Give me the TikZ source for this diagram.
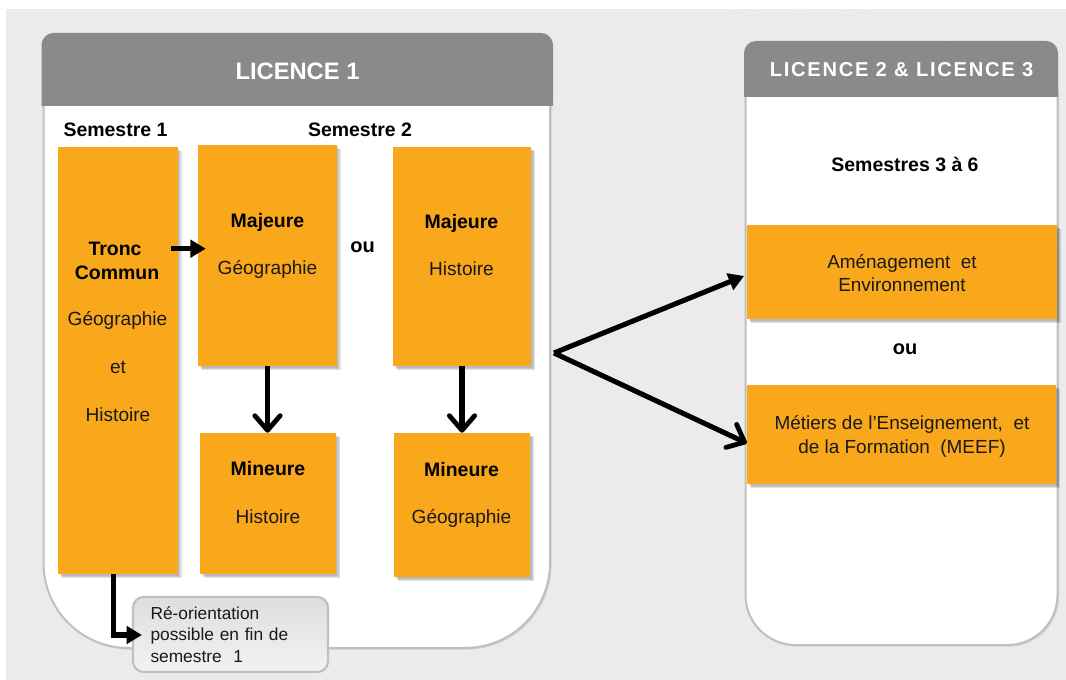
\documentclass[tikz,border=0pt]{standalone}
\usepackage{fontspec}
\setmainfont{Liberation Sans}
\newfontfamily\widefont[LetterSpace=8.5]{Liberation Sans}
\usetikzlibrary{arrows.meta,positioning,calc}
\def\px{*0.75pt}
\definecolor{pagegray}{RGB}{235,235,235}
\definecolor{sealgray}{RGB}{238,238,238}
\definecolor{headgray}{RGB}{138,138,138}
\definecolor{bordergray}{RGB}{192,192,192}
\definecolor{boxorange}{RGB}{249,167,27}
\tikzset{
  softshadow/.style={
    preaction={fill=black,fill opacity=.08,transform canvas={shift={(1.2pt,-1.2pt)}}},
    preaction={fill=black,fill opacity=.10,transform canvas={shift={(2.2pt,-2.2pt)}}},
    preaction={fill=black,fill opacity=.12,transform canvas={shift={(3.2pt,-3.2pt)}}}},
  orangebox/.style={rectangle,fill=boxorange,inner sep=0pt,softshadow},
  reg/.style={font=\fontsize{14.3}{16}\selectfont,inner sep=0pt,text=black!90},
  strong/.style={font=\bfseries\fontsize{14.6}{16}\selectfont,inner sep=0pt,text=black},
  small/.style={font=\fontsize{14.2}{17.2}\selectfont,inner sep=0pt,align=center,text=black!90},
  headtext/.style={text=white,inner sep=0pt},
  panel/.style={fill=white,draw=bordergray,line width=1.5pt},
  header/.style={fill=headgray},
  heavy/.style={line width=3.8pt,black},
  filledtip/.style={-{Triangle[length=11.5pt,width=13pt]}},
  bentip/.style={-{Straight Barb[length=11pt,width=19pt,line width=3.6pt,round]}}
}
\begin{document}
\begin{tikzpicture}[x=0.75pt,y=-0.75pt]
\useasboundingbox (0,0) rectangle (1066,680);
\fill[white] (0,0) rectangle (1066,680);
\fill[pagegray] (6,9) rectangle (1066,680);
% faint seal in the background
\begin{scope}
\clip (6,9) rectangle (1066,680);
\draw[sealgray,line width=1.2pt] (800,380) circle [radius=370];
\draw[sealgray,line width=1.2pt] (800,380) circle [radius=295];
\draw[sealgray,line width=1pt] (656,225) -- (656,510) .. controls (670,580) and (720,640) .. (790,675);
\end{scope}

% Licence 1 panel
\path[panel,preaction={fill=black,fill opacity=.10,transform canvas={shift={(1.2pt,-1.2pt)}}}]
  (43.5,100) -- (43.5,563) arc [start angle=180,end angle=90,radius=85] -- (465,648)
  arc [start angle=90,end angle=0,radius=85] -- (550,100) -- cycle;
\path[header] (41.5,106) [rounded corners=9pt] -- (41.5,33) -- (553,33) [sharp corners] -- (553,106) -- cycle;
\node[headtext,font=\bfseries\fontsize{17.8}{20}\selectfont] (h1) at (297.5,71) {LICENCE 1};

% Licence 2 & 3 panel
\path[panel,preaction={fill=black,fill opacity=.10,transform canvas={shift={(1.2pt,-1.2pt)}}}]
  (745.5,90) -- (745.5,595) arc [start angle=180,end angle=90,radius=50] -- (1007.5,645)
  arc [start angle=90,end angle=0,radius=50] -- (1057.5,90) -- cycle;
\path[header] (744,97) [rounded corners=9pt] -- (744,41) -- (1058,41) [sharp corners] -- (1058,97) -- cycle;
\node[headtext,font=\widefont\bfseries\fontsize{15.1}{17}\selectfont] (h2) at (901.5,70) {LICENCE 2 \& LICENCE 3};

% Semester titles
\node[strong] (s1) at (115.5,129.5) {Semestre 1};
\node[strong] (s2) at (360,129.5) {Semestre 2};
\node[strong] (s36) at (905,164.5) {Semestres 3 à 6};

% Orange boxes
\node[orangebox,minimum width=119.5\px,minimum height=427\px] (tronc) at (117.75,360.5) {};
\node[orangebox,minimum width=138.5\px,minimum height=221\px] (majg) at (267.25,255.5) {};
\node[orangebox,minimum width=138\px,minimum height=219\px] (majh) at (462,256.5) {};
\node[orangebox,minimum width=135.5\px,minimum height=141\px] (ming) at (268,503.5) {};
\node[orangebox,minimum width=136\px,minimum height=144\px] (minh) at (462,505) {};
\node[orangebox,minimum width=310\px,minimum height=94\px] (amen) at (902,272) {};
\node[orangebox,minimum width=309\px,minimum height=99\px] (meef) at (901.5,434.5) {};

% Box texts
\node[strong] (t1) at (115,248.5) {Tronc};
\node[strong] (t2) at (117,272.5) {Commun};
\node[reg] (t3) at (117.5,320) {Géographie};
\node[reg] (t4) at (118,367.5) {et};
\node[reg] (t5) at (118,414.5) {Histoire};
\node[strong] (mg1) at (267.5,222) {Majeure};
\node[reg] (mg2) at (267.5,269) {Géographie};
\node[strong] (mh1) at (461.5,223) {Majeure};
\node[reg] (mh2) at (461.5,268.5) {Histoire};
\node[strong] (ng1) at (268,468.5) {Mineure};
\node[reg] (ng2) at (268,516.5) {Histoire};
\node[strong] (nh1) at (461.5,469.5) {Mineure};
\node[reg] (nh2) at (461.5,518) {Géographie};
\node[small] (a1) at (902,273.5) {Aménagement~ et\\Environnement};
\node[small,font=\fontsize{14.2}{18.5}\selectfont] (m1) at (902,436.5) {Métiers de l’Enseignement,~ et\\de la Formation~ (MEEF)};
\node[strong,font=\bfseries\fontsize{15}{17}\selectfont] (ou1) at (362.5,247) {ou};
\node[strong,font=\bfseries\fontsize{15}{17}\selectfont] (ou2) at (905,349) {ou};

% Re-orientation note
\node[rectangle,rounded corners=8pt,draw=bordergray,line width=1.6pt,top color=black!13,bottom color=black!5,
  minimum width=195\px,minimum height=75\px,inner xsep=13pt,inner ysep=0pt,text width=120pt,align=left,
  font=\fontsize{13}{16.1}\selectfont,text=black!90] (note) at (230.5,634.5)
  {Ré-orientation\\possible en fin de\\semestre~ 1};

% Connectors
\coordinate (fork) at (554,353);
\draw[heavy,filledtip] ([xshift=-5pt]tronc.east |- 0,248.7) -- ([xshift=6pt]majg.west |- 0,248.7);
\draw[heavy,bentip] (267.5,366) -- (ming.north -| 267.5,0);
\draw[heavy,bentip] (462,366) -- (minh.north -| 462,0);
\draw[heavy,filledtip,line join=miter] (tronc.south -| 113.5,0) -- (113.5,635) -- ([xshift=7.5pt]note.west |- 0,635);
\draw[heavy,filledtip] (fork) -- ([xshift=-2pt,yshift=-3pt]amen.west);
\draw[heavy,bentip] (fork) -- ([yshift=-6.5pt]meef.west);
\end{tikzpicture}
\end{document}
